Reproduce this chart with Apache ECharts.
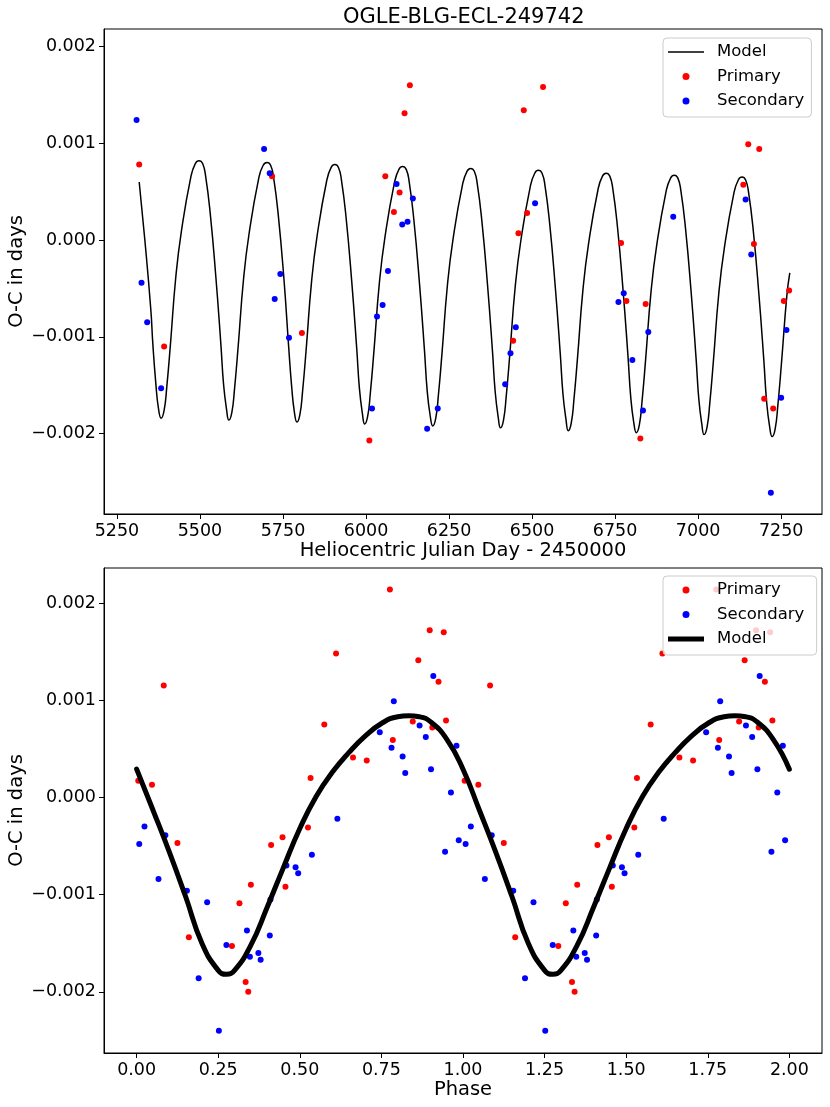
<!DOCTYPE html>
<html>
<head>
<meta charset="utf-8">
<script src="https://cdn.jsdelivr.net/npm/echarts@6.0.0/dist/echarts.min.js"></script>
<style>
  html, body { margin: 0; padding: 0; background: #fff; }
  #chart { width: 830px; height: 1107px; }
</style>
</head>
<body>
<div id="chart"></div>
<script>
/* global echarts */
const FONT = 'DejaVu Sans';

// ---- top panel: O-C against time ----
const primaryDay = [5317, 5392, 5717, 5807, 6010, 6058, 6084, 6101, 6116, 6132, 6443, 6459, 6475, 6485, 6533,
    6768, 6784, 6826, 6842, 7136, 7151, 7168, 7184, 7199, 7226, 7258, 7274];
const primaryOC = [0.00078, -0.0011, 0.00066, -0.00096, -0.00207, 0.00066, 0.00029, 0.00049, 0.00131, 0.0016,
    -0.00104, 0.00007, 0.00134, 0.00028, 0.00158, -0.00003, -0.00063, -0.00205, -0.00066, 0.00057, 0.00099,
    -0.00004, 0.00094, -0.00164, -0.00174, -0.00063, -0.00052];

const secondaryDay = [5309, 5324, 5341, 5383, 5693, 5710, 5725, 5742, 5768, 6018, 6033, 6050, 6066, 6092, 6109,
    6125, 6141, 6184, 6216, 6419, 6435, 6451, 6509, 6760, 6776, 6802, 6834, 6850, 6925, 7143, 7160, 7219, 7250, 7266];
const secondaryOC = [0.00124, -0.00044, -0.00085, -0.00153, 0.00094, 0.00069, -0.00061, -0.00035, -0.00101,
    -0.00174, -0.00079, -0.00067, -0.00032, 0.00058, 0.00016, 0.00019, 0.00043, -0.00195, -0.00174, -0.00149,
    -0.00117, -0.0009, 0.00038, -0.00064, -0.00055, -0.00124, -0.00176, -0.00095, 0.00024, 0.00042, -0.00015,
    -0.00261, -0.00163, -0.00093];

const modelDay = [5317, 5334, 5352, 5358, 5367, 5375,
    5383, 5392, 5400, 5411, 5427, 5444, 5473, 5486, 5497, 5508, 5517, 5531, 5548, 5563, 5571, 5580,
    5587, 5596, 5604, 5615, 5631, 5648, 5677, 5690, 5702, 5713, 5722, 5736, 5753, 5767, 5776, 5784,
    5792, 5801, 5809, 5820, 5836, 5853, 5882, 5895, 5906, 5917, 5926, 5940, 5957, 5972, 5980, 5989,
    5996, 6005, 6013, 6024, 6040, 6057, 6086, 6099, 6110, 6121, 6130, 6144, 6161, 6176, 6184, 6193,
    6201, 6210, 6218, 6229, 6245, 6262, 6291, 6304, 6315, 6326, 6335, 6349, 6366, 6381, 6389, 6398,
    6405, 6414, 6422, 6433, 6449, 6466, 6495, 6508, 6519, 6530, 6539, 6553, 6570, 6585, 6593, 6602,
    6609, 6618, 6626, 6637, 6653, 6670, 6699, 6712, 6723, 6734, 6743, 6757, 6774, 6789, 6797, 6806,
    6814, 6823, 6831, 6842, 6858, 6875, 6904, 6917, 6928, 6939, 6948, 6962, 6979, 6994, 7002, 7011,
    7018, 7027, 7035, 7046, 7062, 7079, 7108, 7121, 7132, 7143, 7152, 7166, 7183, 7198, 7206, 7215,
    7223, 7232, 7240, 7251, 7267, 7276];
const modelOC = [0.0006, 0.0, -0.00072, -0.00107, -0.00148, -0.00174,
    -0.00184, -0.00176, -0.00152, -0.00108, -0.00039, 0.00009, 0.00066, 0.00079, 0.00082, 0.00079, 0.00066, 0.00027, -0.00039, -0.00108, -0.00149, -0.00175,
    -0.00186, -0.00178, -0.00154, -0.0011, -0.00041, 0.00007, 0.00064, 0.00077, 0.0008, 0.00077, 0.00064, 0.00025, -0.00041, -0.0011, -0.00151, -0.00177,
    -0.00188, -0.0018, -0.00156, -0.00112, -0.00043, 0.00005, 0.00062, 0.00075, 0.00078, 0.00075, 0.00062, 0.00023, -0.00043, -0.00112, -0.00153, -0.00179,
    -0.0019, -0.00182, -0.00158, -0.00114, -0.00045, 0.00003, 0.0006, 0.00073, 0.00076, 0.00073, 0.0006, 0.00021, -0.00045, -0.00114, -0.00155, -0.00181,
    -0.00192, -0.00184, -0.0016, -0.00116, -0.00047, 0.00001, 0.00058, 0.00071, 0.00074, 0.00071, 0.00058, 0.00019, -0.00047, -0.00116, -0.00157, -0.00183,
    -0.00194, -0.00186, -0.00162, -0.00118, -0.00049, -0.00001, 0.00056, 0.00069, 0.00072, 0.00069, 0.00056, 0.00017, -0.00049, -0.00118, -0.00159, -0.00185,
    -0.00197, -0.00189, -0.00165, -0.00121, -0.00052, -0.00004, 0.00053, 0.00066, 0.00069, 0.00066, 0.00053, 0.00014, -0.00052, -0.00121, -0.00162, -0.00188,
    -0.00199, -0.00191, -0.00167, -0.00123, -0.00054, -0.00006, 0.00051, 0.00064, 0.00067, 0.00064, 0.00051, 0.00012, -0.00054, -0.00123, -0.00164, -0.0019,
    -0.00201, -0.00193, -0.00169, -0.00125, -0.00056, -0.00008, 0.00049, 0.00062, 0.00065, 0.00062, 0.00049, 0.0001, -0.00056, -0.00125, -0.00166, -0.00192,
    -0.00203, -0.00195, -0.00171, -0.00127, -0.00058, -0.00034];

// ---- bottom panel: O-C against phase (one cycle, shown twice) ----
const primaryPhase = [0.005, 0.047, 0.083, 0.125, 0.16, 0.292, 0.315, 0.334, 0.342, 0.35, 0.412, 0.447, 0.456,
    0.525, 0.533, 0.575, 0.611, 0.663, 0.705, 0.776, 0.785, 0.846, 0.863, 0.898, 0.906, 0.925, 0.941, 0.948];
const primaryPhaseOC = [0.00017, 0.00013, 0.00115, -0.00047, -0.00144, -0.00153, -0.00109, -0.0019, -0.002,
    -0.0009, -0.00049, -0.00041, -0.00092, -0.00031, 0.0002, 0.00075, 0.00148, 0.00041, 0.00038, 0.00214,
    0.00059, 0.00078, 0.00141, 0.00172, 0.00072, 0.00119, 0.0017, 0.00079];

const secondaryPhase = [0.008, 0.024, 0.067, 0.088, 0.154, 0.19, 0.216, 0.252, 0.275, 0.338, 0.347, 0.373, 0.38,
    0.408, 0.41, 0.459, 0.487, 0.495, 0.537, 0.615, 0.745, 0.781, 0.788, 0.815, 0.823, 0.867, 0.886, 0.902,
    0.909, 0.945, 0.963, 0.98, 0.987];
const secondaryPhaseOC = [-0.00048, -0.0003, -0.00084, -0.00039, -0.00096, -0.00186, -0.00108, -0.0024, -0.00152,
    -0.00137, -0.00164, -0.0016, -0.00167, -0.00142, -0.00105, -0.0007, -0.00072, -0.00078, -0.00059, -0.00022,
    0.00067, 0.00051, 0.00099, 0.00042, 0.00025, 0.00074, 0.00062, 0.00029, 0.00125, -0.00056, 0.00005,
    0.00053, -0.00044];

const modelPhase = [0, 0.05, 0.1, 0.15, 0.2, 0.25, 0.275, 0.3, 0.35, 0.4, 0.45, 0.5, 0.55, 0.6, 0.65, 0.7, 0.75,
    0.8, 0.833, 0.866, 0.9, 0.95, 1.0];
const modelPhaseOC = [0.00029, -0.00013, -0.00056, -0.00102, -0.0015, -0.00178, -0.00182, -0.00178, -0.00152,
    -0.00113, -0.00072, -0.00032, 0.00001, 0.00026, 0.00046, 0.00063, 0.00076, 0.00083, 0.00084, 0.00083,
    0.00078, 0.0006, 0.00029];

// ---- tick labels ----
const dayTicks = [5250, 5500, 5750, 6000, 6250, 6500, 6750, 7000, 7250];
const phaseTicks = [0, 0.25, 0.5, 0.75, 1, 1.25, 1.5, 1.75, 2];
const ocTicks = [-0.002, -0.001, 0, 0.001, 0.002];

const pairs = (xs, ys) => xs.map((x, i) => [x, ys[i]]);
// the phase plot repeats the same cycle from 1 to 2
const twoCycles = (xs, ys) => pairs(xs, ys).concat(pairs(xs, ys).map(p => [p[0] + 1, p[1]]));
const twoCyclesLine = (xs, ys) => pairs(xs, ys).concat(pairs(xs, ys).slice(1).map(p => [p[0] + 1, p[1]]));

const fmtOC = v => (v < 0 ? '\u2212' : '') + Math.abs(v).toFixed(3);

function x_axis(gridIndex, min, max, ticks, name, fmt) {
    return {
        type: 'value', gridIndex, min, max,
        name, nameLocation: 'middle', nameGap: 27, nameMoveOverlap: false,
        nameTextStyle: { fontFamily: FONT, fontSize: 19.5, color: '#000' },
        axisLine: { show: true, onZero: false, lineStyle: { color: '#000', width: 1 } },
        axisTick: { show: true, length: 5, lineStyle: { color: '#000' }, customValues: ticks },
        axisLabel: { fontFamily: FONT, fontSize: 17.5, color: '#000', margin: 8, customValues: ticks, formatter: fmt },
        splitLine: { show: false }
    };
}

function y_axis(gridIndex, min, max) {
    return {
        type: 'value', gridIndex, min, max,
        name: 'O-C in days', nameLocation: 'middle', nameGap: 77, nameMoveOverlap: false,
        nameTextStyle: { fontFamily: FONT, fontSize: 19.5, color: '#000' },
        axisLine: { show: true, onZero: false, lineStyle: { color: '#000', width: 1 } },
        axisTick: { show: true, length: 5, lineStyle: { color: '#000' }, customValues: ocTicks },
        axisLabel: { fontFamily: FONT, fontSize: 17.5, color: '#000', margin: 8, customValues: ocTicks, formatter: fmtOC },
        splitLine: { show: false }
    };
}

function legend_box(top, names, modelWidth) {
    return {
        orient: 'vertical', left: 663, top,
        padding: [5, 7, 7, 5],
        itemWidth: 36, itemHeight: 7, itemGap: 6.5,
        backgroundColor: 'rgba(255,255,255,0.8)',
        borderColor: '#ccc', borderWidth: 1, borderRadius: 4,
        textStyle: { fontFamily: FONT, fontSize: 16.5, color: '#000', lineHeight: 18, padding: [0, 0, 0, 8] },
        data: names.map(n => (n.trim() === 'Model'
            ? { name: n, icon: `path://M0 0H36V${modelWidth}H0Z`, itemStyle: { color: '#000', borderWidth: 0 } }
            : { name: n, icon: 'circle' }))
    };
}

const dot = (name, color, xAxisIndex, data, z) => ({
    name, type: 'scatter', xAxisIndex, yAxisIndex: xAxisIndex,
    symbol: 'circle', symbolSize: 6, data, z,
    itemStyle: { color, opacity: 1 }
});

const chart = echarts.init(document.getElementById('chart'), null, { renderer: 'canvas' });

const option = {
    backgroundColor: '#fff',
    animation: false,
    title: {
        text: 'OGLE-BLG-ECL-249742', left: 338, top: 2,
        textStyle: { fontFamily: FONT, fontSize: 21, fontWeight: 'normal', color: '#000' }
    },
    grid: [
        { left: 104, right: 8, top: 29, height: 485, outerBoundsMode: 'none', containLabel: false,
          show: true, borderColor: '#000', borderWidth: 1 },
        { left: 104, right: 8, top: 568, height: 485, outerBoundsMode: 'none', containLabel: false,
          show: true, borderColor: '#000', borderWidth: 1 }
    ],
    xAxis: [
        x_axis(0, 5211, 7373, dayTicks, 'Heliocentric Julian Day - 2450000', v => String(v)),
        x_axis(1, -0.1, 2.1, phaseTicks, 'Phase', v => v.toFixed(2))
    ],
    yAxis: [
        y_axis(0, -0.00283, 0.00218),
        y_axis(1, -0.00263, 0.00236)
    ],
    legend: [
        legend_box(38, ['Model', 'Primary', 'Secondary'], 1.5),
        legend_box(576, ['Primary ', 'Secondary ', 'Model '], 5)
    ],
    series: [
        {
            name: 'Model', type: 'line', xAxisIndex: 0, yAxisIndex: 0,
            data: pairs(modelDay, modelOC), smooth: 0.5, symbol: 'none', z: 1,
            itemStyle: { color: '#000' },
            lineStyle: { color: '#000', width: 1.5 }
        },
        dot('Primary', '#ff0000', 0, pairs(primaryDay, primaryOC), 3),
        dot('Secondary', '#0000ff', 0, pairs(secondaryDay, secondaryOC), 3),

        dot('Primary ', '#ff0000', 1, twoCycles(primaryPhase, primaryPhaseOC), 2),
        dot('Secondary ', '#0000ff', 1, twoCycles(secondaryPhase, secondaryPhaseOC), 2),
        {
            name: 'Model ', type: 'line', xAxisIndex: 1, yAxisIndex: 1,
            data: twoCyclesLine(modelPhase, modelPhaseOC), smooth: 0.5, symbol: 'none', z: 4,
            itemStyle: { color: '#000' },
            lineStyle: { color: '#000', width: 5, cap: 'round', join: 'round' }
        }
    ]
};

chart.setOption(option);
</script>
</body>
</html>
